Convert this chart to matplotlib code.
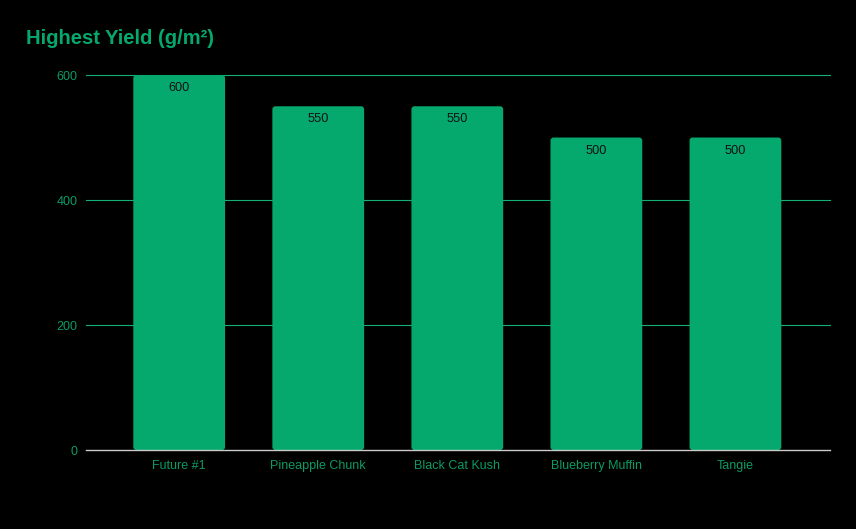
import matplotlib
matplotlib.use("Agg")
import matplotlib.pyplot as plt
from matplotlib.patches import FancyBboxPatch

strains = ["Future #1", "Pineapple Chunk", "Black Cat Kush", "Blueberry Muffin", "Tangie"]
yields = [600, 550, 550, 500, 500]
y_ticks = [0, 200, 400, 600]

green = "#05a86d"
plt.rcParams["font.family"] = ["Liberation Sans", "DejaVu Sans"]

fig = plt.figure(figsize=(8.56, 5.29), dpi=100, facecolor="black")
ax = fig.add_axes([0.1005, 0.1493, 0.8691, 0.7089], facecolor="black")

x = list(range(len(strains)))
width = 0.66
bars = ax.bar(x, yields, width=width, color=green, zorder=3)

# troca os retangulos por versoes com cantos levemente arredondados
for b in bars:
    p = FancyBboxPatch((b.get_x(), b.get_y()), b.get_width(), b.get_height(),
                       boxstyle="round,pad=0,rounding_size=0.022",
                       mutation_aspect=222, facecolor=green, edgecolor="none", zorder=3)
    b.set_visible(False)
    ax.add_patch(p)

for xi, v in zip(x, yields):
    ax.text(xi, v - 21, str(v), ha="center", va="center", fontsize=9.2, color="#111111", zorder=4)

ax.set_xlim(-0.67, 4.68)
ax.set_ylim(0, 600)
ax.set_yticks(y_ticks)
ax.set_yticklabels([str(t) for t in y_ticks])
ax.set_xticks(x)
ax.set_xticklabels(strains)
ax.tick_params(axis="both", length=0, colors="#0c9a63", labelsize=9)
ax.tick_params(axis="y", pad=6)
ax.tick_params(axis="x", pad=7)

for t in y_ticks[1:]:
    ax.axhline(t, color="#12b074", linewidth=0.8, zorder=1, clip_on=False)
ax.axhline(0, color="#cccccc", linewidth=1.0, zorder=4, clip_on=False)

for s in ax.spines.values():
    s.set_visible(False)

fig.text(26 / 856, 1 - 38 / 529, "Highest Yield (g/m²)", fontsize=14.5, fontweight="bold",
         color=green, ha="left", va="center")

plt.savefig("out.png", dpi=100, facecolor="black")
plt.close()
